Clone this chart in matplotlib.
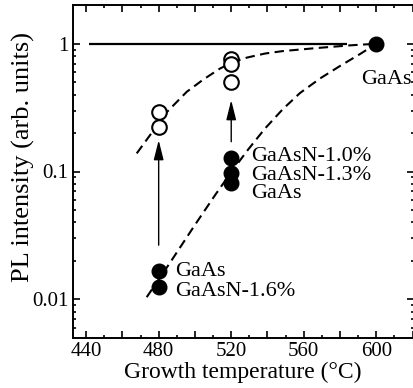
import matplotlib
matplotlib.use("Agg")
import matplotlib.pyplot as plt
from matplotlib.ticker import MultipleLocator, FuncFormatter, LogLocator, NullFormatter

plt.rcParams['font.family'] = ['Liberation Serif', 'DejaVu Serif']

# ---- data ----
filled_x480 = [480, 480]
filled_y480 = [0.0167, 0.0125]
filled_x520 = [520, 520, 520]
filled_y520 = [0.127, 0.098, 0.081]
filled_x600 = [600]
filled_y600 = [1.0]

open_x480 = [480, 480]
open_y480 = [0.29, 0.224]
open_x520 = [520, 520, 520]
open_y520 = [0.76, 0.69, 0.50]

upper_curve_x = [467.9, 484.5, 495.5, 504.6, 513.8, 521.0, 528.7, 538.6, 548.5, 567.1, 585.5, 600.0]
upper_curve_y = [0.1386, 0.2918, 0.4209, 0.5246, 0.6394, 0.719, 0.7796, 0.8381, 0.8765, 0.9254, 0.9716, 1.0]

lower_curve_x = [473.4, 486.3, 500.1, 511.1, 520.4, 529.3, 538.6, 548.5, 557.9, 568.9, 579.9, 591.0, 600.0]
lower_curve_y = [0.01038, 0.01936, 0.03839, 0.06533, 0.1007, 0.1484, 0.2168, 0.3082, 0.4112, 0.534, 0.6688, 0.8304, 1.0]

ref_line_x = [441.8, 583.6]
ref_line_y = [1.0, 1.0]

arrows = [  # (x, y_from, y_to)
    (480, 0.0265, 0.176),
    (520, 0.171, 0.362),
]

labels = [  # (text, x, y baseline)
    ("GaAs", 591.7, 0.483),
    ("GaAsN-1.0%", 530.8, 0.121),
    ("GaAsN-1.3%", 530.8, 0.0857),
    ("GaAs", 530.8, 0.0615),
    ("GaAs", 489.0, 0.0152),
    ("GaAsN-1.6%", 489.0, 0.01057),
]

x_ticklabels = [440, 480, 520, 560, 600]

# ---- figure ----
fig = plt.figure(figsize=(4.14, 3.88), dpi=100)
ax = fig.add_axes([72.7 / 414, (388 - 337.7) / 388, (413.5 - 72.7) / 414, (337.7 - 5.3) / 388])
ax.set_yscale('log')
ax.set_xlim(432.6, 620.5)
ax.set_ylim(0.005, 2.0)

ax.plot(ref_line_x, ref_line_y, color='black', lw=1.6, solid_capstyle='butt')
ax.plot(upper_curve_x, upper_curve_y, color='black', lw=1.5, dashes=(4.5, 2.6))
ax.plot(lower_curve_x, lower_curve_y, color='black', lw=1.5, dashes=(4.5, 2.6))

ms = 10.5
for xs, ys in [(filled_x480, filled_y480), (filled_x520, filled_y520), (filled_x600, filled_y600)]:
    ax.plot(xs, ys, 'o', color='black', ms=ms, zorder=5, linestyle='none')
for xs, ys in [(open_x480, open_y480), (open_x520, open_y520)]:
    ax.plot(xs, ys, 'o', mfc='white', mec='black', mew=1.5, ms=ms, zorder=5, linestyle='none')

for x, y0, y1 in arrows:
    ax.annotate('', xy=(x, y1), xytext=(x, y0),
                arrowprops=dict(arrowstyle='-|>,head_length=1.2,head_width=0.3',
                                color='black', lw=1.0, mutation_scale=10,
                                shrinkA=0, shrinkB=0))

for t, x, y in labels:
    ax.text(x, y, t, fontsize=16, va='baseline', ha='left')

ax.xaxis.set_major_locator(MultipleLocator(20))
ax.xaxis.set_minor_locator(MultipleLocator(10))
ax.xaxis.set_major_formatter(FuncFormatter(
    lambda v, p: f"{int(round(v))}" if int(round(v)) in x_ticklabels else ""))
ax.yaxis.set_major_locator(LogLocator(base=10, numticks=10))
ax.yaxis.set_minor_locator(LogLocator(base=10, subs=[2, 3, 4, 5, 6, 7, 8, 9], numticks=10))
ax.yaxis.set_minor_formatter(NullFormatter())
ax.yaxis.set_major_formatter(FuncFormatter(lambda v, p: f"{v:g}"))

ax.tick_params(which='both', direction='in', top=True, right=True, width=1.2, labelsize=15)
ax.tick_params(which='major', length=5, pad=3)
ax.tick_params(which='minor', length=2.5)
for s in ax.spines.values():
    s.set_linewidth(1.4)

ax.set_xlabel('Growth temperature (°C)', fontsize=17, labelpad=1)
ax.set_ylabel('PL intensity (arb. units)', fontsize=19)
ax.yaxis.set_label_coords(-0.112, 0.545)

fig.savefig('out.png', dpi=100)
